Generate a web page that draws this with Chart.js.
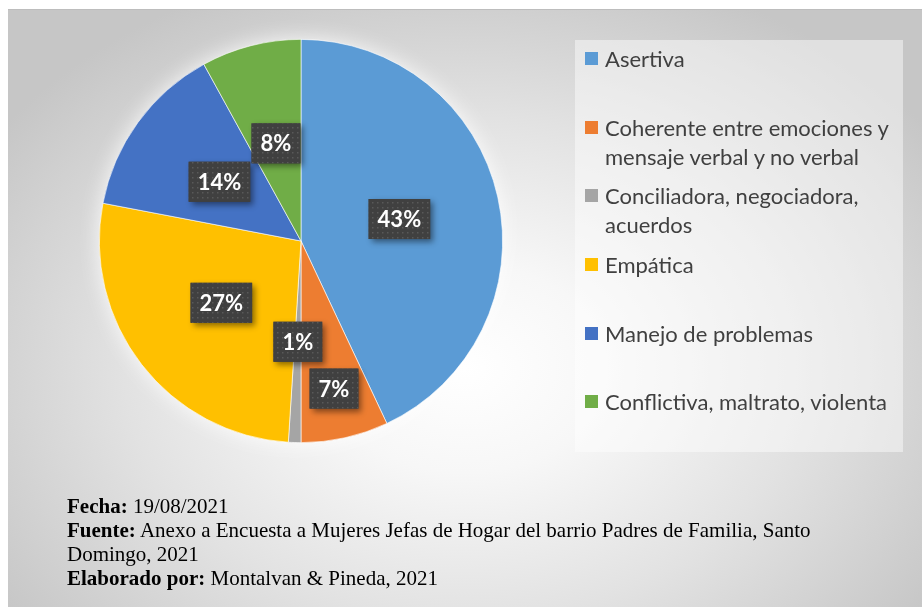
<!DOCTYPE html>
<html lang="es">
<head>
    <meta charset="UTF-8">
    <title>Comunicación en el hogar</title>
    <script src="https://cdn.jsdelivr.net/npm/chart.js"></script>
    <style>
        body {
            margin: 0;
            background: #ffffff;
            width: 922px;
            height: 611px;
            position: relative;
            overflow: hidden;
        }
        #marco {
            position: absolute;
            left: 8px;
            top: 9px;
            width: 914px;
            height: 598px;
            border-top: 1px solid #bdbdbd;
            box-sizing: border-box;
            background: radial-gradient(ellipse 62% 70% at 50% 60%, #ffffff 0%, #f7f7f7 25%, #e2e2e2 60%, #c6c6c6 100%);
        }
        #grafico {
            position: absolute;
            left: 0;
            top: 0;
        }
        #leyenda {
            position: absolute;
            left: 575px;
            top: 40px;
            width: 328px;
            height: 412px;
            background: rgba(255, 255, 255, 0.45);
            font-family: Lato, "Open Sans", sans-serif;
            font-size: 22px;
            color: #404040;
        }
        .item {
            height: 68.67px;
            box-sizing: border-box;
            position: relative;
        }
        .item .cuadro {
            position: absolute;
            left: 10px;
            top: 12px;
            width: 13px;
            height: 13px;
        }
        .item .texto {
            position: absolute;
            left: 30px;
            top: 4px;
            width: 296px;
            line-height: 29px;
        }
        #nota {
            position: absolute;
            left: 67px;
            top: 494px;
            width: 790px;
            font-family: "Liberation Serif", "Times New Roman", serif;
            font-size: 21px;
            line-height: 24px;
            color: #000;
        }
    </style>
</head>
<body>
    <div id="marco"></div>
    <canvas id="grafico" width="922" height="611"></canvas>
    <div id="leyenda"></div>
    <div id="nota">
        <b>Fecha:</b> 19/08/2021<br>
        <b>Fuente:</b> Anexo a Encuesta a Mujeres Jefas de Hogar del barrio Padres de Familia, Santo Domingo, 2021<br>
        <b>Elaborado por:</b> Montalvan &amp; Pineda, 2021
    </div>

    <script>
        // Datos del gráfico
        const categorias = [
            'Asertiva',
            'Coherente entre emociones y mensaje verbal y no verbal',
            'Conciliadora, negociadora, acuerdos',
            'Empática',
            'Manejo de problemas',
            'Conflictiva, maltrato, violenta'
        ];
        const porcentajes = [43, 7, 1, 27, 14, 8];
        const colores = ['#5B9BD5', '#ED7D31', '#A5A5A5', '#FFC000', '#4472C4', '#70AD47'];

        // Distancia de cada etiqueta al centro (fracción del radio)
        const posEtiquetas = [0.5, 0.75, 0.5, 0.5, 0.5, 0.5];

        // Brillo blanco detrás del pastel
        const brillo = {
            id: 'brillo',
            beforeDatasetsDraw(chart) {
                const arco = chart.getDatasetMeta(0).data[0];
                if (!arco) return;
                const ctx = chart.ctx;
                ctx.save();
                ctx.shadowColor = 'rgba(255,255,255,0.95)';
                ctx.shadowBlur = 22;
                ctx.fillStyle = '#ffffff';
                ctx.beginPath();
                ctx.arc(arco.x, arco.y, arco.outerRadius - 1, 0, Math.PI * 2);
                ctx.fill();
                ctx.restore();
            }
        };

        // Trama de puntos para las cajas de etiquetas
        function crearTrama(ctx) {
            const c = document.createElement('canvas');
            c.width = 5;
            c.height = 5;
            const t = c.getContext('2d');
            t.fillStyle = '#404040';
            t.fillRect(0, 0, 5, 5);
            t.fillStyle = '#595959';
            t.fillRect(2, 2, 1.5, 1.5);
            return ctx.createPattern(c, 'repeat');
        }

        // Etiquetas de porcentaje en cajas oscuras
        const etiquetas = {
            id: 'etiquetas',
            afterDatasetsDraw(chart) {
                const ctx = chart.ctx;
                const trama = crearTrama(ctx);
                const meta = chart.getDatasetMeta(0);
                ctx.save();
                ctx.font = 'bold 22px Lato, "Open Sans", sans-serif';
                ctx.textAlign = 'center';
                ctx.textBaseline = 'middle';
                meta.data.forEach((arco, i) => {
                    const p = arco.getProps(['x', 'y', 'startAngle', 'endAngle', 'outerRadius']);
                    const medio = (p.startAngle + p.endAngle) / 2;
                    const r = p.outerRadius * posEtiquetas[i];
                    const cx = p.x + Math.cos(medio) * r;
                    const cy = p.y + Math.sin(medio) * r;
                    const texto = porcentajes[i] + '%';
                    const w = ctx.measureText(texto).width + 18;
                    const h = 40;

                    ctx.save();
                    ctx.shadowColor = 'rgba(0,0,0,0.45)';
                    ctx.shadowBlur = 6;
                    ctx.shadowOffsetX = 3;
                    ctx.shadowOffsetY = 3;
                    ctx.fillStyle = '#404040';
                    ctx.fillRect(cx - w / 2, cy - h / 2, w, h);
                    ctx.restore();

                    ctx.fillStyle = trama;
                    ctx.fillRect(cx - w / 2, cy - h / 2, w, h);

                    ctx.fillStyle = '#ffffff';
                    ctx.fillText(texto, cx, cy + 1);
                });
                ctx.restore();
            }
        };

        const grafico = new Chart(document.getElementById('grafico'), {
            type: 'pie',
            data: {
                labels: categorias,
                datasets: [{
                    data: porcentajes,
                    backgroundColor: colores,
                    borderColor: 'rgba(255,255,255,0.8)',
                    borderWidth: 0.75
                }]
            },
            options: {
                responsive: false,
                animation: false,
                layout: {
                    padding: { left: 99, top: 39, right: 419, bottom: 168 }
                },
                plugins: {
                    legend: { display: false },
                    tooltip: { enabled: false }
                }
            },
            plugins: [brillo, etiquetas]
        });

        // Leyenda en HTML a partir de los datos del gráfico
        const leyenda = document.getElementById('leyenda');
        grafico.data.labels.forEach((nombre, i) => {
            const item = document.createElement('div');
            item.className = 'item';
            const cuadro = document.createElement('span');
            cuadro.className = 'cuadro';
            cuadro.style.background = grafico.data.datasets[0].backgroundColor[i];
            const texto = document.createElement('span');
            texto.className = 'texto';
            texto.textContent = nombre;
            item.appendChild(cuadro);
            item.appendChild(texto);
            leyenda.appendChild(item);
        });
    </script>
</body>
</html>
